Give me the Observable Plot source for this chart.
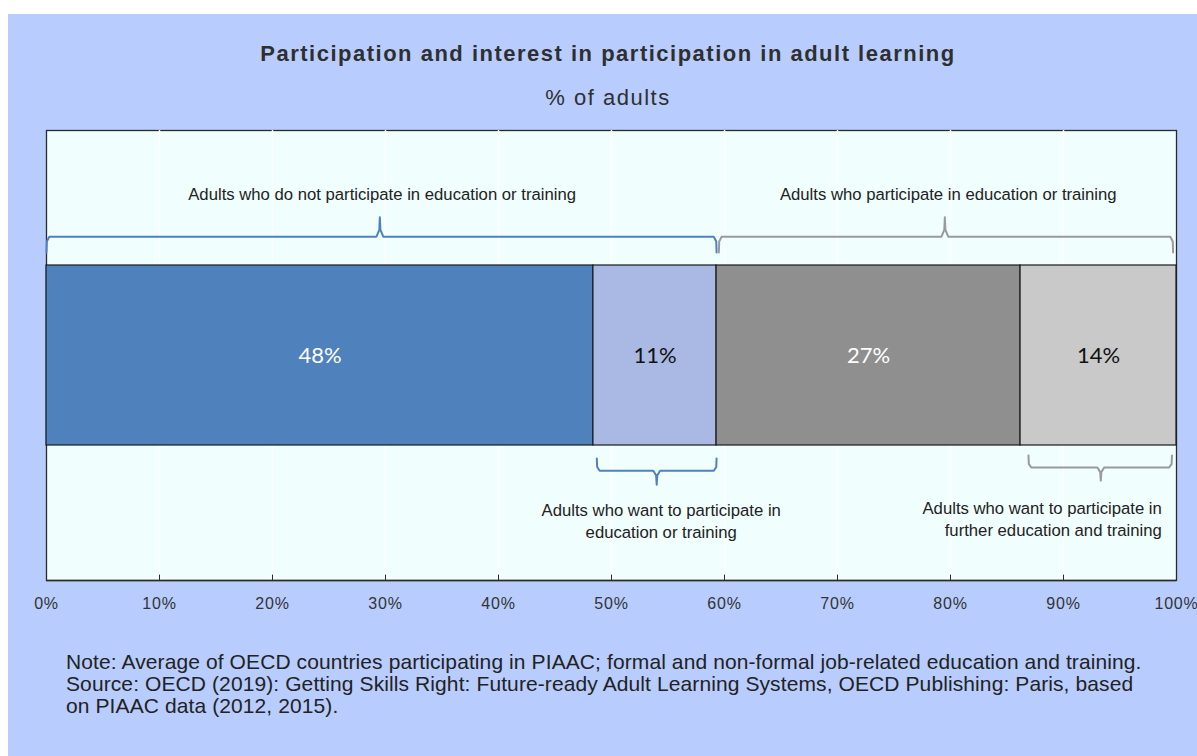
<!DOCTYPE html>
<html>
<head>
<meta charset="utf-8">
<script src="https://cdn.jsdelivr.net/npm/d3@7"></script>
<script src="https://cdn.jsdelivr.net/npm/@observablehq/plot@0.6"></script>
<style>
  body { margin: 0; background: #ffffff; width: 1197px; height: 756px; overflow: hidden; position: relative; }
  #bg { position: absolute; left: 8px; top: 14px; width: 1189px; height: 742px; background: #b8cdfd; }
  #title { position: absolute; left: 0; top: 41px; width: 1216px; text-align: center; font: bold 22px "Liberation Sans", Arial, sans-serif; letter-spacing: 1.5px; color: #2f2f2f; line-height: 26px; }
  #subtitle { position: absolute; left: 0; top: 85px; width: 1216px; text-align: center; font: 22px "Liberation Sans", Arial, sans-serif; letter-spacing: 1.5px; color: #2f2f2f; line-height: 26px; }
  #chart { position: absolute; left: 0; top: 0; }
  #note { position: absolute; left: 66px; top: 651px; font: 21px "Liberation Sans", Arial, sans-serif; letter-spacing: 0.1px; color: #222; line-height: 22px; white-space: nowrap; }
  g[aria-label="bar-label"] text { letter-spacing: 2.5px; }
  g[aria-label="x-axis tick label"] text { letter-spacing: 0.8px; }
</style>
</head>
<body>
<div id="bg"></div>
<div id="title">Participation and interest in participation in adult learning</div>
<div id="subtitle">% of adults</div>
<div id="chart"></div>
<div id="note">Note: Average of OECD countries participating in PIAAC; formal and non-formal job-related education and training.<br>Source: OECD (2019): Getting Skills Right: Future-ready Adult Learning Systems, OECD Publishing: Paris, based<br>on PIAAC data (2012, 2015).</div>
<script>
// ---- data ----
const segments = ["Not participating, not interested", "Not participating, want to participate", "Participating, not interested in more", "Participating, want further"];
const segmentValues = [48.4, 10.9, 26.9, 13.8];
const segmentLabels = ["48%", "11%", "27%", "14%"];
const segmentColors = ["#4f81bd", "#a9b9e3", "#8f8f8f", "#c9c9c9"];
const segmentTextColors = ["#ffffff", "#111111", "#ffffff", "#111111"];

const tickValues = [0, 10, 20, 30, 40, 50, 60, 70, 80, 90, 100];
const tickLabels = ["0%", "10%", "20%", "30%", "40%", "50%", "60%", "70%", "80%", "90%", "100%"];

// braces: start, end, tip position (x, in %)
const braceStart = [0, 59.5, 48.7, 86.9];
const braceEnd = [59.3, 99.7, 59.3, 99.6];
const braceTip = [29.5, 79.5, 54.0, 93.3];
const braceColor = ["#4f81bd", "#9a9a9a", "#4f81bd", "#9a9a9a"];
const braceEndLevel = [7.29, 7.29, 2.71, 2.78];
const braceLineLevel = [7.64, 7.64, 2.44, 2.51];
const braceTipLevel = [8.07, 8.07, 2.13, 2.22];

const annotationText = [
  "Adults who do not participate in education or training",
  "Adults who participate in education or training",
  "Adults who want to participate in\neducation or training",
  "Adults who want to participate in\nfurther education and training"
];
const annotationX = [29.7, 79.8, 54.4, 98.7];
const annotationY = [8.62, 8.62, 1.34, 1.39];
const annotationAnchor = ["middle", "middle", "middle", "end"];

// ---- build tables ----
const bars = segments.map((s, i) => ({
  name: s, value: segmentValues[i], label: segmentLabels[i],
  color: segmentColors[i], textColor: segmentTextColors[i]
}));

const bracePts = [];
braceStart.forEach((a, i) => {
  const b = braceEnd[i], c = braceTip[i];
  const e = braceEndLevel[i], h = braceLineLevel[i], t = braceTipLevel[i];
  const r = h + (e - h) * 0.3;
  const tc = h + (t - h) * 0.35;
  const pts = [
    [a, e], [a + 0.03, r], [a + 0.25, h], [c - 0.3, h], [c - 0.05, tc], [c, t],
    [c + 0.05, tc], [c + 0.3, h], [b - 0.25, h], [b - 0.03, r], [b, e]
  ];
  pts.forEach(([x, y]) => bracePts.push({id: i, x, y, color: braceColor[i]}));
});

const annotations = annotationText.map((t, i) => ({
  text: t, x: annotationX[i], y: annotationY[i], anchor: annotationAnchor[i]
}));

const textFont = {fontSize: 16.7, fontFamily: "'Liberation Sans', Arial, sans-serif", fill: "#222", lineHeight: 1.32};

const chart = Plot.plot({
  width: 1197,
  height: 630,
  marginTop: 130,
  marginBottom: 50,
  marginLeft: 46,
  marginRight: 21,
  style: {background: "transparent", overflow: "visible"},
  x: {domain: [0, 100]},
  y: {domain: [0, 10], axis: null},
  marks: [
    Plot.frame({fill: "#f1fefe", stroke: "#2a2a2a", strokeWidth: 1.3}),
    Plot.ruleX(tickValues.slice(1, -1), {stroke: "#ffffff", strokeWidth: 1.5}),
    Plot.rectX(bars, {x: "value", y1: () => 3, y2: () => 7, fill: "color", stroke: "#1a1a1a", strokeWidth: 1.2}),
    Plot.text(bars, Plot.stackX({
      x: "value", y: () => 5, text: "label", fill: "textColor", ariaLabel: "bar-label",
      fontSize: 22, fontFamily: "Lato, 'Open Sans', sans-serif"
    })),
    Plot.line(bracePts, {x: "x", y: "y", z: "id", stroke: "color", strokeWidth: 2, curve: "linear"}),
    Plot.text(annotations.filter(d => d.anchor === "middle"), {
      x: "x", y: "y", text: "text", textAnchor: "middle", ...textFont
    }),
    Plot.text(annotations.filter(d => d.anchor === "end"), {
      x: "x", y: "y", text: "text", textAnchor: "end", ...textFont
    }),
    Plot.ruleX(tickValues, {y1: 0, y2: 0.12, stroke: "#2a2a2a", strokeWidth: 1}),
    Plot.ruleY([0], {stroke: "#2a2a2a", strokeWidth: 1.5}),
    Plot.axisX({
      ticks: tickValues, tickSize: 0, tickPadding: 17, label: null,
      tickFormat: (d) => tickLabels[tickValues.indexOf(d)],
      fontSize: 16, fontFamily: "'Liberation Sans', Arial, sans-serif", fill: "#333"
    })
  ]
});
document.getElementById("chart").appendChild(chart);
</script>
</body>
</html>
